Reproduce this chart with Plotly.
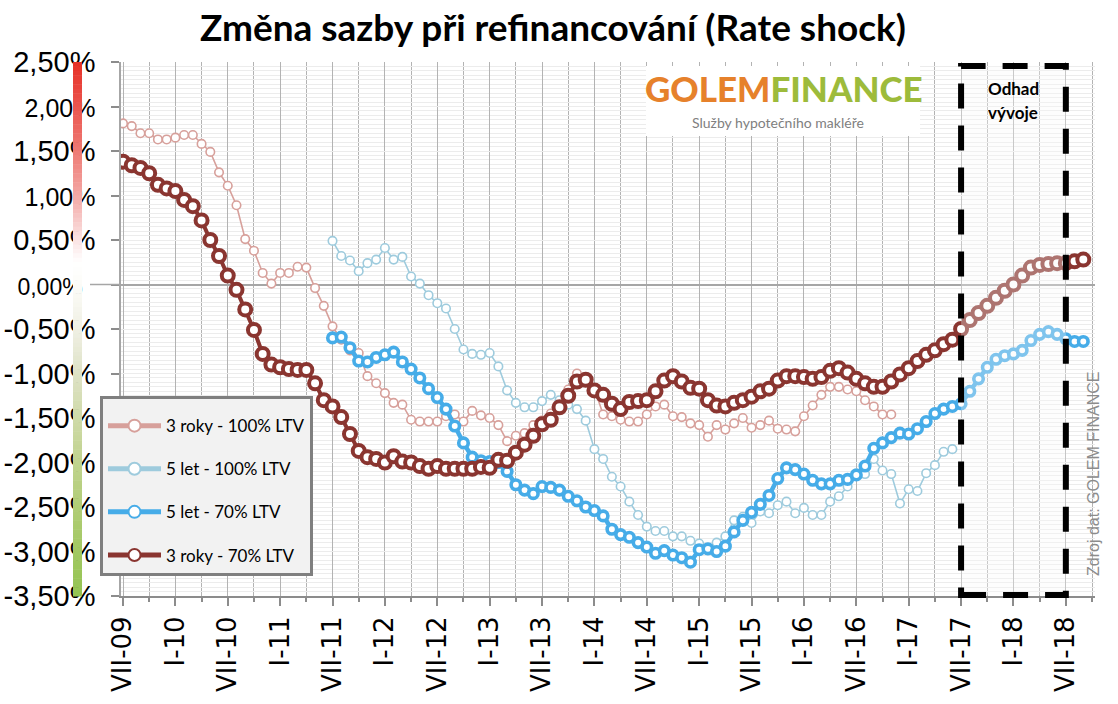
import plotly.graph_objects as go

# ---------------- data ----------------
tick_labels = ["VII-09", "I-10", "VII-10", "I-11", "VII-11", "I-12", "VII-12", "I-13",
               "VII-13", "I-14", "VII-14", "I-15", "VII-15", "I-16", "VII-16", "I-17",
               "VII-17", "I-18", "VII-18"]
tick_months = list(range(0, 6 * len(tick_labels), 6))   # month index, 0 = VII-09

y_tick_vals = [2.5, 2.0, 1.5, 1.0, 0.5, 0.0, -0.5, -1.0, -1.5, -2.0, -2.5, -3.0, -3.5]
y_tick_labels = ["2,50%", "2,00%", "1,50%", "1,00%", "0,50%", "0,00%", "-0,50%",
                 "-1,00%", "-1,50%", "-2,00%", "-2,50%", "-3,00%", "-3,50%"]
small_labels = {"2,00%": 25, "1,00%": 25, "0,00%": 23}

series_names = ["3 roky - 100% LTV", "5 let - 100% LTV", "5 let - 70% LTV", "3 roky - 70% LTV"]
start_3r = 0    # VII-09
start_5l = 24   # VII-11
forecast_from = 96   # VII-17
forecast_to = 108    # VII-18

s3r100 = [1.81, 1.78, 1.70, 1.70, 1.63, 1.63, 1.65, 1.68, 1.68, 1.58,
          1.49, 1.26, 1.11, 0.89, 0.51, 0.38, 0.13, 0.01, 0.13, 0.13,
          0.20, 0.19, -0.04, -0.24, -0.47, -0.62, -0.74, -0.77, -1.03, -1.11,
          -1.22, -1.33, -1.35, -1.52, -1.54, -1.54, -1.54, -1.48, -1.46, -1.54,
          -1.42, -1.47, -1.50, -1.58, -1.76, -1.70, -1.67, -1.58, -1.53, -1.45,
          -1.33, -1.18, -1.00, -1.05, -1.17, -1.46, -1.48, -1.52, -1.54, -1.54,
          -1.46, -1.37, -1.35, -1.48, -1.49, -1.56, -1.58, -1.71, -1.58, -1.63,
          -1.56, -1.50, -1.61, -1.58, -1.53, -1.62, -1.63, -1.65, -1.48, -1.36,
          -1.24, -1.15, -1.15, -1.18, -1.20, -1.30, -1.37, -1.46, -1.46]

s5l100 = [0.49, 0.32, 0.27, 0.15, 0.24, 0.28, 0.41, 0.28, 0.31, 0.09,
          0.01, -0.12, -0.21, -0.27, -0.50, -0.73, -0.78, -0.79, -0.77, -0.92,
          -1.19, -1.33, -1.38, -1.38, -1.31, -1.24, -1.30, -1.35, -1.40, -1.53,
          -1.85, -1.96, -2.16, -2.27, -2.44, -2.59, -2.72, -2.77, -2.77, -2.83,
          -2.83, -2.88, -2.91, -2.96, -2.90, -2.83, -2.65, -2.61, -2.68, -2.55,
          -2.57, -2.48, -2.44, -2.57, -2.51, -2.59, -2.59, -2.44, -2.38, -2.27,
          -2.12, -2.13, -1.96, -2.09, -2.13, -2.46, -2.30, -2.32, -2.12, -2.03,
          -1.88, -1.85]

s5l70 = [-0.60, -0.59, -0.71, -0.86, -0.87, -0.82, -0.79, -0.76, -0.87, -0.95,
         -1.05, -1.17, -1.27, -1.40, -1.59, -1.78, -1.94, -1.98, -1.99, -2.00,
         -2.10, -2.25, -2.31, -2.35, -2.27, -2.28, -2.31, -2.38, -2.43, -2.50,
         -2.54, -2.60, -2.75, -2.81, -2.84, -2.90, -2.95, -3.02, -2.99, -3.04,
         -3.07, -3.12, -2.98, -2.97, -3.00, -2.94, -2.78, -2.65, -2.56, -2.47,
         -2.37, -2.18, -2.06, -2.08, -2.13, -2.20, -2.24, -2.24, -2.20, -2.19,
         -2.14, -2.04, -1.84, -1.78, -1.72, -1.67, -1.68, -1.62, -1.54, -1.45,
         -1.40, -1.37, -1.34, -1.20, -1.06, -0.93, -0.84, -0.80, -0.78, -0.74,
         -0.63, -0.56, -0.53, -0.56, -0.61, -0.64, -0.64]

s3r70 = [1.38, 1.34, 1.31, 1.25, 1.12, 1.08, 1.05, 0.95, 0.88, 0.72,
         0.50, 0.32, 0.10, -0.06, -0.28, -0.51, -0.78, -0.90, -0.93, -0.95,
         -0.96, -0.96, -1.11, -1.30, -1.37, -1.49, -1.68, -1.87, -1.94, -1.96,
         -2.00, -1.93, -1.99, -2.00, -2.04, -2.07, -2.04, -2.07, -2.07, -2.07,
         -2.07, -2.05, -2.06, -1.97, -1.98, -1.89, -1.80, -1.70, -1.57, -1.52,
         -1.38, -1.25, -1.09, -1.07, -1.19, -1.24, -1.34, -1.40, -1.32, -1.31,
         -1.30, -1.20, -1.08, -1.03, -1.09, -1.16, -1.17, -1.30, -1.36, -1.37,
         -1.33, -1.30, -1.26, -1.20, -1.17, -1.08, -1.03, -1.03, -1.04, -1.06,
         -1.04, -0.97, -0.94, -0.99, -1.06, -1.11, -1.15, -1.15, -1.09, -1.01,
         -0.94, -0.86, -0.79, -0.74, -0.67, -0.62, -0.50, -0.40, -0.32, -0.24,
         -0.15, -0.07, 0.00, 0.10, 0.19, 0.22, 0.23, 0.24, 0.24, 0.26, 0.28]

# ---------------- geometry / style ----------------
W, H = 1118, 704
L, R, T, B = 121, 1095, 62, 596
X0_PX, PX_PER_MONTH = 123.0, 8.73


def pxx(p):
    return (p - L) / (R - L)


def pxy(p):
    return (B - p) / (B - T)


x_range = [(L - X0_PX) / PX_PER_MONTH, (R - X0_PX) / PX_PER_MONTH]

fig = go.Figure()

styles = [
    dict(color="#d7a09b", lw=1.6, ms=8.5, mlw=1.6),
    dict(color="#9ecbdd", lw=1.6, ms=8.5, mlw=1.6),
    dict(color="#46ace8", lw=4.5, ms=9.5, mlw=3.6),
    dict(color="#8a3530", lw=4.0, ms=12, mlw=4.0),
]
datasets = [(s3r100, start_3r), (s5l100, start_5l), (s5l70, start_5l), (s3r70, start_3r)]

for i, ((vals, st), name, sty) in enumerate(zip(datasets, series_names, styles)):
    xs = list(range(st, st + len(vals)))
    fig.add_trace(go.Scatter(
        x=xs, y=vals, name=name, mode="lines+markers",
        legendgroup=f"g{i}",
        line=dict(color=sty["color"], width=sty["lw"]),
        marker=dict(symbol="circle", size=sty["ms"], color="white",
                    line=dict(color=sty["color"], width=sty["mlw"])),
        hoverinfo="skip",
    ))

shapes = []
# colour bar beside the y labels
stops = [(2.5, (230, 48, 38)), (2.0, (235, 85, 78)), (1.5, (238, 122, 116)),
         (1.0, (243, 168, 165)), (0.55, (250, 222, 222)), (0.25, (255, 255, 255)),
         (0.0, (252, 252, 248)), (-0.5, (240, 240, 228)), (-1.0, (222, 226, 198)),
         (-1.5, (207, 218, 168)), (-2.0, (192, 211, 142)), (-2.5, (177, 205, 118)),
         (-3.0, (162, 200, 98)), (-3.5, (148, 196, 82))]


def col_at(v):
    for (va, ca), (vb, cb) in zip(stops[:-1], stops[1:]):
        if vb <= v <= va:
            f = (va - v) / (va - vb)
            c = [round(ca[k] + (cb[k] - ca[k]) * f) for k in range(3)]
            return f"rgb({c[0]},{c[1]},{c[2]})"
    return "white"


NSEG = 120
for k in range(NSEG):
    v_top = 2.5 - 6.0 * k / NSEG
    v_bot = 2.5 - 6.0 * (k + 1) / NSEG
    py_top = T + (2.5 - v_top) / 6.0 * (B - T)
    py_bot = T + (2.5 - v_bot) / 6.0 * (B - T)
    shapes.append(dict(type="rect", xref="paper", yref="paper",
                       x0=pxx(73), x1=pxx(82), y0=pxy(py_bot + 0.5), y1=pxy(py_top),
                       fillcolor=col_at((v_top + v_bot) / 2), line=dict(width=0), layer="above"))

# extended zero tick
shapes.append(dict(type="line", xref="paper", yref="y", x0=pxx(90), x1=0, y0=0, y1=0,
                   line=dict(color="#a6a6a6", width=1.5), layer="above"))
# logo white box
shapes.append(dict(type="rect", xref="paper", yref="paper", x0=pxx(646), x1=pxx(920),
                   y0=pxy(136), y1=pxy(66), fillcolor="white", line=dict(width=0), layer="above"))
# forecast box
shapes.append(dict(type="rect", xref="x", yref="paper", x0=forecast_from, x1=forecast_to,
                   y0=pxy(595), y1=pxy(66), fillcolor="rgba(248,248,248,0.32)",
                   line=dict(color="black", width=6, dash="25px,17px"), layer="above"))

ytext = []
for lab in y_tick_labels:
    if lab in small_labels:
        extra = "&nbsp;&nbsp;" if lab == "0,00%" else ""
        ytext.append(f'<span style="font-size:{small_labels[lab]}px">{lab}{extra}</span>')
    else:
        ytext.append(lab)

annotations = [
    dict(text='<span style="color:#e6812b">GOLEM</span><span style="color:#9dbb3b">FINANCE</span>',
         xref="paper", yref="paper", x=pxx(784), y=pxy(88), xanchor="center", yanchor="middle",
         showarrow=False, font=dict(family="Lato", size=35, weight=900)),
    dict(text="Služby hypotečního makléře", xref="paper", yref="paper", x=pxx(778), y=pxy(122),
         xanchor="center", yanchor="middle", showarrow=False,
         font=dict(family="Lato", size=14, color="#808080")),
    dict(text="<b>Odhad</b>", xref="x", yref="paper", x=(forecast_from + forecast_to) / 2, y=pxy(88),
         xanchor="center", yanchor="middle", showarrow=False,
         font=dict(family="Lato", size=17, color="black")),
    dict(text="<b>vývoje</b>", xref="x", yref="paper", x=(forecast_from + forecast_to) / 2, y=pxy(112),
         xanchor="center", yanchor="middle", showarrow=False,
         font=dict(family="Lato", size=17, color="black")),
    dict(text="Zdroj dat: GOLEM FINANCE", xref="paper", yref="paper", x=pxx(1093), y=pxy(474),
         xanchor="center", yanchor="middle", showarrow=False, textangle=-90,
         font=dict(family="Liberation Sans", size=16, color="#8c8c8c")),
]

fig.update_layout(
    width=W, height=H,
    margin=dict(l=L, r=W - R, t=T, b=H - B, pad=0, autoexpand=False),
    paper_bgcolor="white", plot_bgcolor="white",
    title=dict(text="<b>Změna sazby při refinancování (Rate shock)</b>",
               xref="container", yref="container", x=553 / W, y=1 - 28 / H,
               xanchor="center", yanchor="middle",
               font=dict(family="Lato", size=37, color="black")),
    showlegend=True,
    legend=dict(x=pxx(100), y=pxy(396), xanchor="left", yanchor="top",
                bgcolor="#f2f2f2", bordercolor="#7f7f7f", borderwidth=3,
                font=dict(family="Lato", size=17, color="black"),
                title=dict(text="&nbsp;", font=dict(size=7)),
                traceorder="grouped", tracegroupgap=18, itemsizing="constant",
                itemwidth=53),
    shapes=shapes, annotations=annotations,
    xaxis=dict(range=x_range, tickmode="array", tickvals=tick_months, ticktext=tick_labels,
               tickangle=-90, tickfont=dict(family="DejaVu Sans", size=26, color="black"),
               ticks="outside", ticklen=8, tickwidth=1.5, tickcolor="#8c8c8c",
               showline=True, linecolor="#8c8c8c", linewidth=2,
               showgrid=True, gridcolor="#b3b3b3", gridwidth=1.3, zeroline=False,
               automargin=False,
               minor=dict(tick0=0, dtick=3, showgrid=True, gridcolor="#b3b3b3", gridwidth=1.3,
                          ticks="outside", ticklen=4, tickcolor="#8c8c8c")),
    yaxis=dict(range=[-3.5, 2.5], tickmode="array", tickvals=y_tick_vals, ticktext=ytext,
               tickfont=dict(family="Liberation Sans", size=29, color="black"),
               ticks="outside", ticklen=8, tickwidth=1.5, tickcolor="#8c8c8c",
               ticklabelstandoff=10, automargin=False,
               showline=True, linecolor="#a6a6a6", linewidth=1.5,
               showgrid=True, gridcolor="#ececec", gridwidth=1,
               zeroline=True, zerolinecolor="#a6a6a6", zerolinewidth=1.5,
               minor=dict(tick0=0, dtick=0.05, showgrid=True, gridcolor="#ececec", gridwidth=1)),
)

fig.write_html("out.html", config={"displayModeBar": False},
               post_script="document.body.style.margin='0px';")
